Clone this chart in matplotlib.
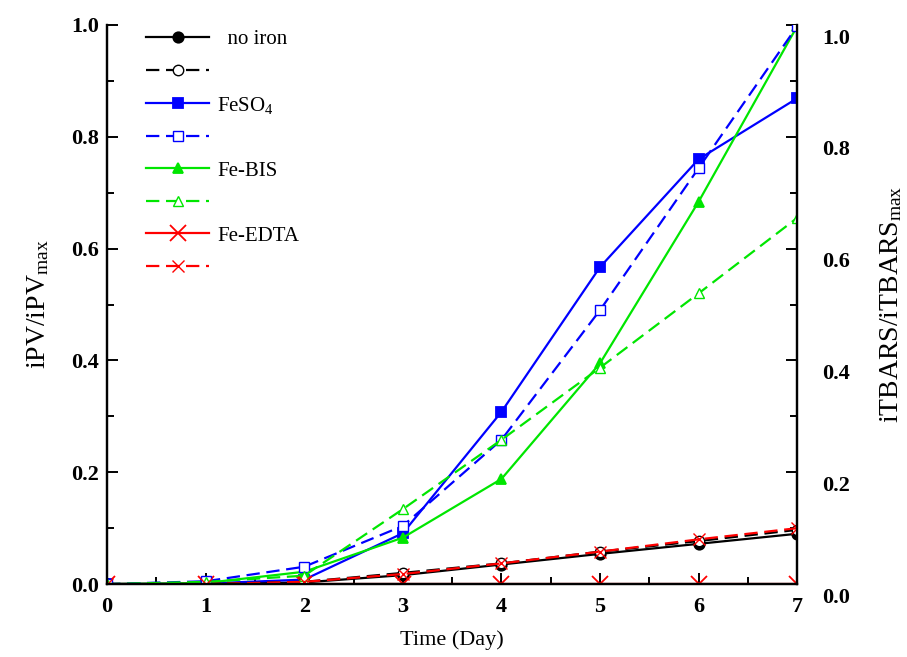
import numpy as np
import matplotlib
matplotlib.use('Agg')
import matplotlib.pyplot as plt
from matplotlib.ticker import MultipleLocator, FormatStrFormatter
from matplotlib.transforms import ScaledTranslation

plt.rcParams['font.family'] = 'Liberation Serif'
plt.rcParams['mathtext.fontset'] = 'custom'
plt.rcParams['mathtext.rm'] = 'Liberation Serif'
plt.rcParams['mathtext.it'] = 'Liberation Serif:italic'

# data
days = [0, 1, 2, 3, 4, 5, 6, 7]
noiron_pv = [0, 0, 0.003, 0.016, 0.035, 0.054, 0.072, 0.090]
noiron_tb = [0, 0, 0.004, 0.020, 0.037, 0.058, 0.077, 0.097]
feso4_pv = [0, 0.001, 0.008, 0.091, 0.308, 0.567, 0.760, 0.869]
feso4_tb = [0, 0.005, 0.031, 0.104, 0.258, 0.490, 0.744, 0.998]
febis_pv = [0, 0.002, 0.022, 0.083, 0.188, 0.395, 0.684, 0.998]
febis_tb = [0, 0.004, 0.015, 0.134, 0.258, 0.387, 0.520, 0.655]
feedta_pv = [0, 0, 0, 0, 0, 0, 0, 0]
feedta_tb = [0, 0, 0.004, 0.018, 0.037, 0.058, 0.080, 0.100]

labels = ['  no iron', 'FeSO$_4$', 'Fe-BIS', 'Fe-EDTA']
colors = ['black', '#0000ff', '#00e600', '#ff0000']
markers = ['o', 's', '^', 'x']
pv_series = [noiron_pv, feso4_pv, febis_pv, feedta_pv]
tb_series = [noiron_tb, feso4_tb, febis_tb, feedta_tb]

fig = plt.figure(figsize=(9.07, 6.57), dpi=100)
ax = fig.add_axes([0.118, 0.111, 0.761, 0.851])
ax2 = ax.twinx()

handles = []
for lab, c, m, pv, tb in zip(labels, colors, markers, pv_series, tb_series):
    ms1 = 11 if m == 'x' else 7.5
    ms2 = 9 if m == 'x' else 7.5
    h1, = ax.plot(days, pv, color=c, lw=1.6, marker=m, ms=ms1,
                  mfc=c, mec=c, mew=1.3, label=lab)
    h2, = ax2.plot(days, tb, color=c, lw=1.6, ls=(0, (6, 3)), marker=m,
                   ms=ms2, mfc='white' if m != 'x' else c, mec=c, mew=1.0,
                   label=' ')
    handles += [h1, h2]

for a in (ax, ax2):
    a.set_xlim(0, 7)
    a.set_ylim(0, 1.0)
    a.spines['top'].set_visible(False)
    for s in a.spines.values():
        s.set_linewidth(1.6)
    a.yaxis.set_major_locator(MultipleLocator(0.2))
    a.yaxis.set_minor_locator(MultipleLocator(0.1))
    a.yaxis.set_major_formatter(FormatStrFormatter('%.1f'))
    a.tick_params(which='both', direction='in', width=1.4, labelsize=16)
    a.tick_params(which='major', length=8)
    a.tick_params(which='minor', length=5)

ax.xaxis.set_major_locator(MultipleLocator(1))
ax.xaxis.set_minor_locator(MultipleLocator(0.5))
ax.tick_params(axis='x', which='both', top=False, pad=9)
ax.tick_params(axis='y', which='both', right=False, pad=6)
ax2.tick_params(axis='y', pad=18)

fig.canvas.draw()
# right-hand labels sit a little below their ticks in the original
off = ScaledTranslation(0, -8 / 72, fig.dpi_scale_trans)
for tk in ax2.yaxis.get_major_ticks():
    tk.label2.set_transform(tk.label2.get_transform() + off)
    tk.label2.set_fontweight('bold')
for tk in ax.yaxis.get_major_ticks() + ax.xaxis.get_major_ticks():
    tk.label1.set_fontweight('bold')

ax.set_xlabel('Time (Day)', fontsize=16, labelpad=10)
ax.set_ylabel(r'iPV/iPV$_{\mathrm{max}}$', fontsize=20, labelpad=14)
ax2.set_ylabel(r'iTBARS/iTBARS$_{\mathrm{max}}$', fontsize=20, labelpad=20)

leg = ax2.legend(handles=handles, loc='upper left', bbox_to_anchor=(0.03, 1.025),
                 frameon=False, fontsize=15, handlelength=3.0,
                 labelspacing=0.62, handletextpad=0.4)

fig.savefig('out.png', dpi=100)
